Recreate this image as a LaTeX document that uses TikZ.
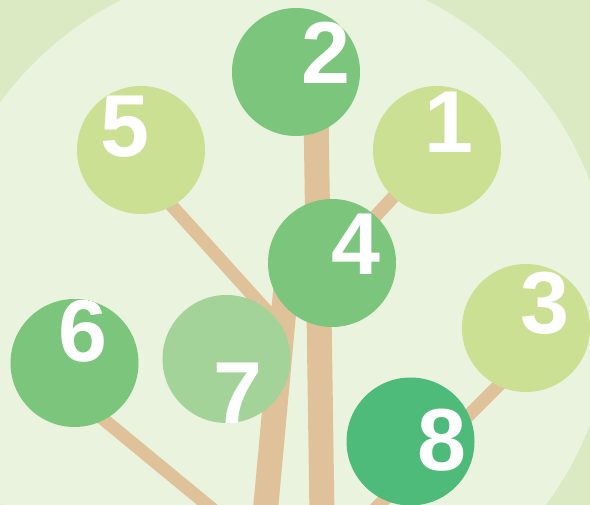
\documentclass[tikz,border=0pt]{standalone}
\usepackage{fontspec}
\setmainfont{Liberation Sans}

\definecolor{fondo}{HTML}{DCEAC3}
\definecolor{fondoclaro}{HTML}{EAF3DD}
\definecolor{madera}{HTML}{E0C29A}
\definecolor{hojaclara}{HTML}{CBE093}
\definecolor{hojamedia}{HTML}{7CC57C}
\definecolor{hojapalida}{HTML}{A3D399}
\definecolor{hojaoscura}{HTML}{4FBB7B}

\tikzset{
  hoja/.style={circle, minimum size=128pt, inner sep=0pt},
  rama/.style={draw=madera, line width=13pt},
  tronco/.style={draw=madera, line width=25pt},
  cifra/.style={text=white, inner sep=0pt, font=\bfseries\fontsize{88}{88}\selectfont}
}

\begin{document}
\begin{tikzpicture}[x=1pt,y=-1pt]
% Radio de las hojas
\def\rad{64}

% Fondo
\useasboundingbox (0,0) rectangle (590,505);
\clip (0,0) rectangle (590,505);
\fill[fondo] (0,0) rectangle (590,505);
\fill[fondoclaro] (273.5,303) circle (339);

% Centros de las hojas
\foreach \n/\x/\y in {1/437/150, 2/296/72, 3/526/328, 4/332/263,
                      5/141/150, 6/74.5/363, 7/226.5/359, 8/410.5/441.5}
  \coordinate (c\n) at (\x,\y);

% Extremos de troncos y ramas
\coordinate (alto2) at (316,110);
\coordinate (raiz2) at (322,515);
\coordinate (alto7) at (288,265);
\coordinate (raiz7) at (265,515);
\coordinate (b5) at (135,165);
\coordinate (j5) at (284,330);
\coordinate (b6) at (74,395);
\coordinate (raiz6) at (216,512);
\coordinate (b3) at (526,358);
\coordinate (raiz3) at (372,512);

% Troncos y ramas
\draw[tronco] (alto2) -- (raiz2);
\draw[tronco] (alto7) -- (raiz7);
\draw[rama] (c1) -- (c4);
\draw[rama] (b5) -- (j5);
\draw[rama] (b6) -- (raiz6);
\draw[rama] (b3) -- (raiz3);

% Hojas con su numero
\foreach \n/\col/\dx/\dy in {1/hojaclara/12/-28, 2/hojamedia/30/-19,
    3/hojaclara/18.5/-24.5, 4/hojamedia/23.5/-19, 5/hojaclara/-16.5/-23.5,
    6/hojamedia/8/-31.5, 7/hojapalida/11.5/34.5, 8/hojaoscura/31/-1} {

    \node[hoja, fill=\col] (n\n) at (c\n) {};

    % Cifra recortada por la hoja
    \begin{scope}
      \clip (c\n) circle (\rad);
      \node[cifra] (t\n) at ([shift={(\dx,\dy)}]c\n) {\n};
    \end{scope}
}
\end{tikzpicture}
\end{document}
